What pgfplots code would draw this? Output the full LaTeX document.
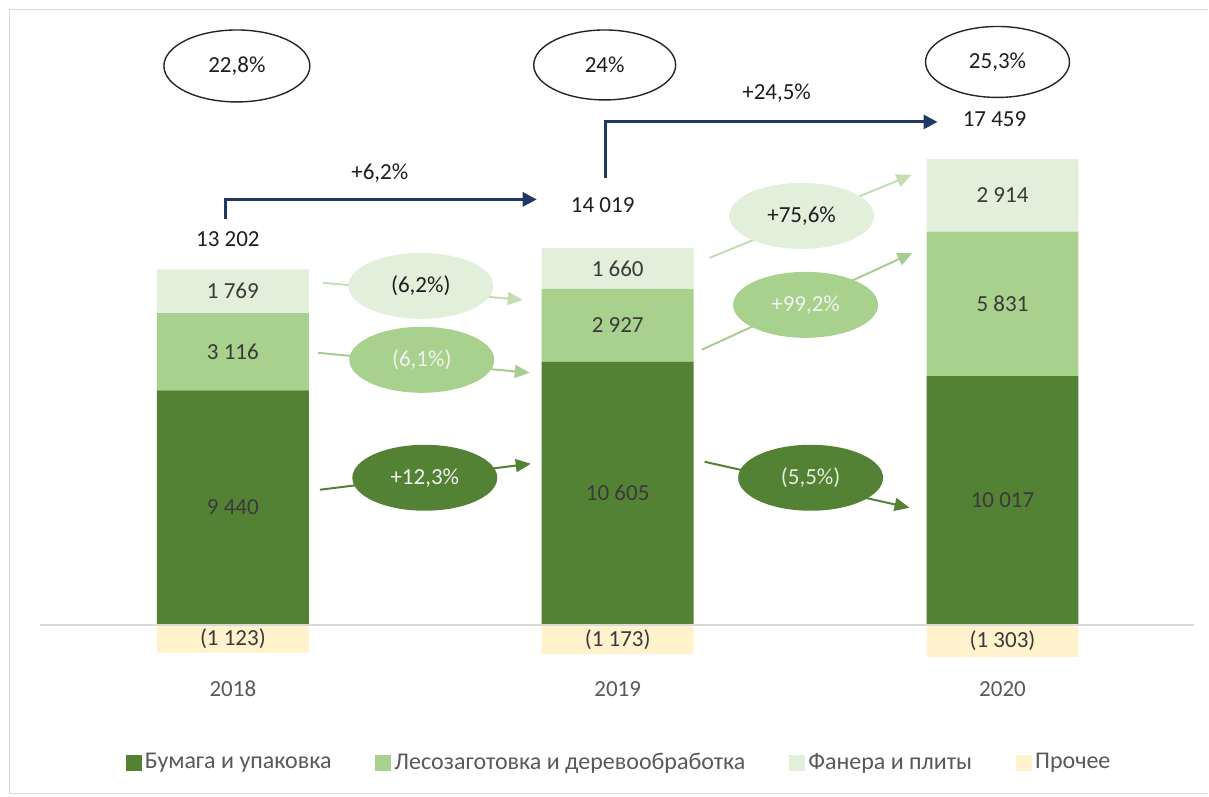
\documentclass[border=0pt]{standalone}
\usepackage{fontspec}
\setmainfont{Carlito}
\usepackage{pgfplots}
\pgfplotsset{compat=1.18}
\usetikzlibrary{shapes.geometric,arrows.meta}

\definecolor{paper}{HTML}{548235}
\definecolor{wood}{HTML}{A9D18E}
\definecolor{plywood}{HTML}{E2EFDA}
\definecolor{other}{HTML}{FFF2CC}
\definecolor{navy}{HTML}{203864}
\definecolor{txt}{HTML}{3A3A3A}
\definecolor{dark}{HTML}{1E1E1E}
\definecolor{grey}{HTML}{595959}
\definecolor{frame}{HTML}{D9D9D9}
\definecolor{lightarr}{HTML}{C5DDB5}
\definecolor{midarr}{HTML}{A9CC92}

% one axis box = the whole picture; 1 px of the reference = 0.5pt
\pgfplotsset{
  panel/.style={
    scale only axis, width=604.5pt, height=398.5pt,
    xmin=-0.60519, xmax=2.53506, ymin=-6930, ymax=25181,
    hide axis, clip=false, bar width=76pt,
  },
}

\begin{document}
\begin{tikzpicture}[font=\fontsize{11.5}{13}\selectfont]
\begin{axis}[panel, name=ax, ybar stacked,
  legend image code/.code={\fill[#1] (0pt,-4pt) rectangle (8pt,4pt);},
  legend style={at={(0.5115,0.0427)}, anchor=center, draw=none, fill=none,
    legend columns=4, text=grey, font=\fontsize{12}{14}\selectfont,
    nodes={inner xsep=0pt},
    /tikz/every odd column/.append style={column sep=1.5pt},
    /tikz/every even column/.append style={column sep=22pt}},
]
\addplot[fill=paper, draw=none] coordinates {(0,9440) (1,10605) (2,10017)};
\addlegendentry{Бумага и упаковка}
\addplot[fill=wood, draw=none] coordinates {(0,3116) (1,2927) (2,5831)};
\addlegendentry{Лесозаготовка и деревообработка}
\addplot[fill=plywood, draw=none] coordinates {(0,1769) (1,1660) (2,2914)};
\addlegendentry{Фанера и плиты}
\addlegendimage{fill=other, draw=none}
\addlegendentry{Прочее}
\end{axis}

\begin{axis}[panel, at={(ax.south west)}, ybar, bar shift=0pt]
\addplot[fill=other, draw=none] coordinates {(0,-1123) (1,-1173) (2,-1303)};
\node[text=txt] at (axis cs:0,-561) {(1 123)};
\node[text=txt] at (axis cs:1,-586) {(1 173)};
\node[text=txt] at (axis cs:2,-651) {(1 303)};

% segment labels, centred in each segment
\node[text=txt] at (axis cs:0,4720) {9 440};
\node[text=txt] at (axis cs:0,10998) {3 116};
\node[text=txt] at (axis cs:0,13440) {1 769};
\node[text=txt] at (axis cs:1,5302) {10 605};
\node[text=txt] at (axis cs:1,12068) {2 927};
\node[text=txt] at (axis cs:1,14362) {1 660};
\node[text=txt] at (axis cs:2,5008) {10 017};
\node[text=txt] at (axis cs:2,12932) {5 831};
\node[text=txt] at (axis cs:2,17305) {2 914};

% years
\node[text=grey] at (axis cs:0,-2579) {2018};
\node[text=grey] at (axis cs:1,-2579) {2019};
\node[text=grey] at (axis cs:2,-2579) {2020};
\end{axis}

% annotations in reference pixels
\begin{scope}[shift={(ax.north west)}, x=0.5pt, y=-0.5pt]
\path (0,0) rectangle (1209,797);
\draw[frame, line width=0.6pt] (1209,9.5) -- (9.5,9.5) -- (9.5,794) -- (1209,794);
\draw[frame, line width=1pt] (40,625) -- (1195,625);

% totals
\node[text=dark] at (228,239) {13 202};
\node[text=dark] at (603,205) {14 019};
\node[text=dark] at (995,119) {17 459};
\node[text=dark] at (380,173) {+6,2\%};
\node[text=dark] at (777,93) {+24,5\%};
\draw[navy, line width=1.5pt, -{Triangle[length=7pt,width=7pt]}]
  (226,219) -- (226,199.5) -- (537,199.5);
\draw[navy, line width=1.5pt, -{Triangle[length=7pt,width=7pt]}]
  (606,178) -- (606,122) -- (938,122);

% share ellipses
\tikzset{share/.style={ellipse, draw=black!85, line width=0.7pt,
  minimum width=73pt, minimum height=36pt, inner sep=0pt, text=dark}}
\node[share] at (237,66) {22,8\%};
\node[share, minimum width=71pt, minimum height=35pt] at (605,65) {24\%};
\node[share, minimum width=72pt, minimum height=35.5pt] at (998,62) {25,3\%};

% growth arrows
\tikzset{garr/.style={line width=1pt, -{Triangle[length=7.5pt,width=6.5pt]}},
  gro/.style={ellipse, minimum width=72.5pt, minimum height=33pt, inner sep=0pt}}
\draw[garr, lightarr] (323,283) -- (523,300);
\draw[garr, midarr] (318,353) -- (530,373);
\draw[garr, paper] (320,490) -- (531,464);
\draw[garr, lightarr] (710,258) -- (912,175);
\draw[garr, midarr] (702,350) -- (913,253);
\draw[garr, paper] (705,462) -- (910,508);

\node[gro, fill=plywood, text=dark] at (421,286) {(6,2\%)};
\node[gro, fill=wood, text=white!95!black] at (422,360) {(6,1\%)};
\node[gro, fill=paper, text=white!95!black] at (425,478) {+12,3\%};
\node[gro, fill=plywood, text=dark] at (802,216) {+75,6\%};
\node[gro, fill=wood, text=white!95!black] at (806,305) {+99,2\%};
\node[gro, fill=paper, text=plywood] at (811,478) {(5,5\%)};
\end{scope}
\end{tikzpicture}
\end{document}
